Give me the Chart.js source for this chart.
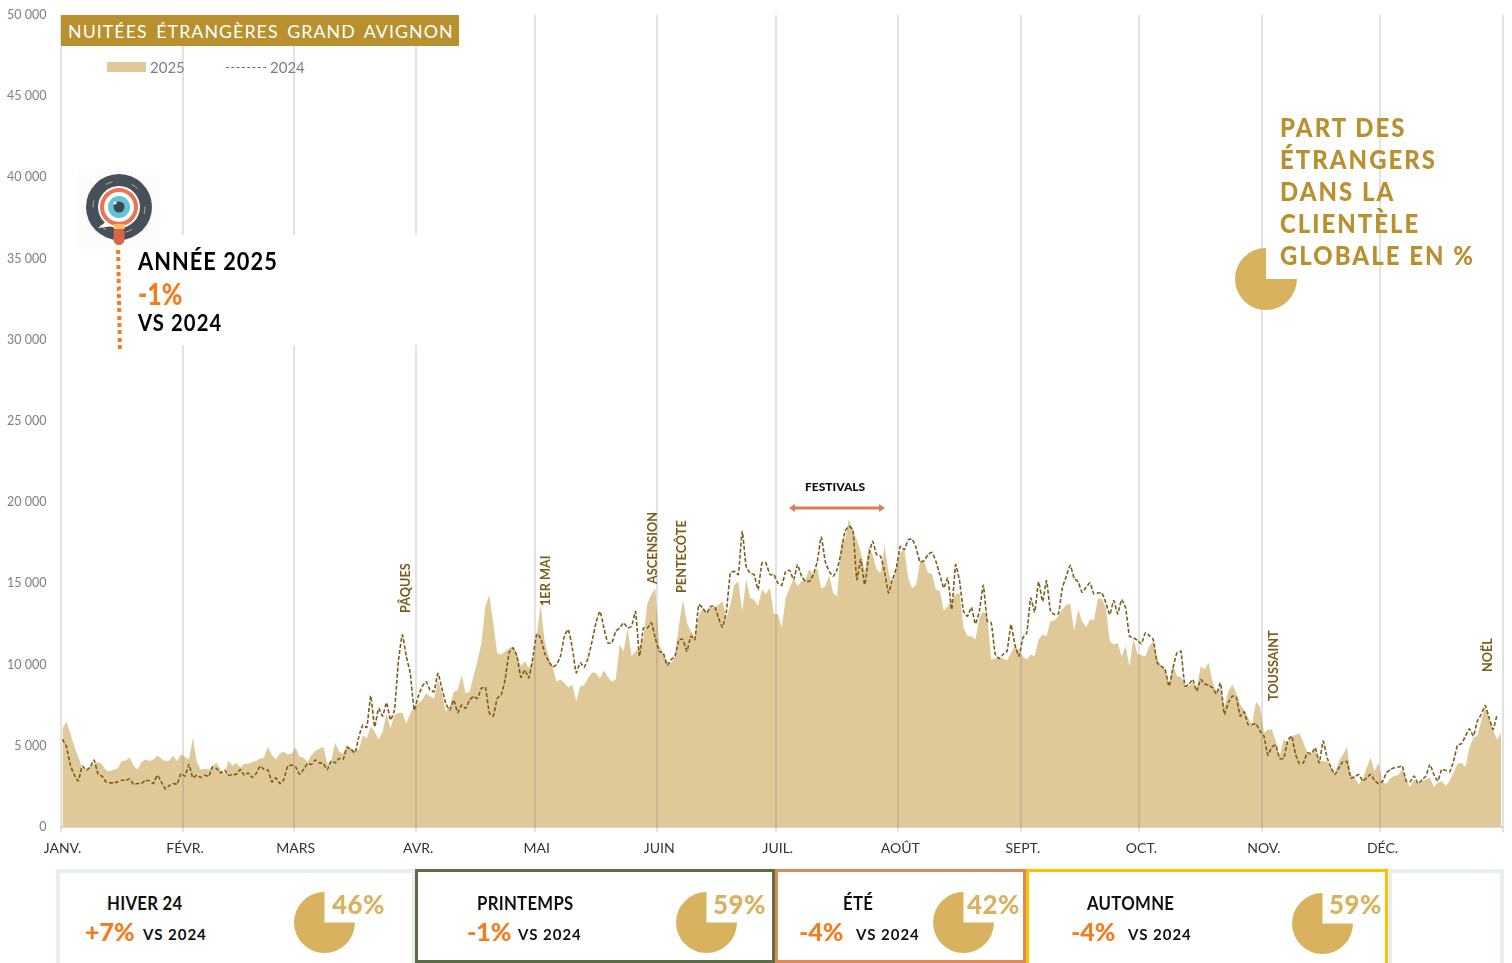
<!DOCTYPE html>
<html lang="fr">
<head>
<meta charset="utf-8">
<title>Nuitées étrangères Grand Avignon</title>
<script src="https://cdn.jsdelivr.net/npm/chart.js@4"></script>
<style>
html, body { margin: 0; padding: 0; background: #fff; }
#page { position: relative; width: 1512px; height: 963px; overflow: hidden; font-family: Lato, sans-serif; }
#graphe { position: absolute; left: 0; top: 0; }
.abs { position: absolute; white-space: nowrap; line-height: 1; }
.pie { position: absolute; }
.titre { left: 61px; top: 15px; width: 398px; height: 31px; background: #b8902d; color: #fff; font-size: 17.8px; line-height: 33px; text-indent: 7px; letter-spacing: 1.05px; word-spacing: 3px; }
.leg { color: #7f7f7f; font-size: 15px; top: 60px; }
.fete { color: #7a5c1e; font-weight: 700; font-size: 12.7px; transform: rotate(-90deg); transform-origin: left top; }
.carte { position: absolute; top: 869px; height: 94px; box-sizing: border-box; border-style: solid; background: #fff; }
.saison { font-weight: 700; font-size: 18px; color: #111; top: 894px; letter-spacing: .3px; transform: scaleX(.93); transform-origin: left; }
.evol { font-weight: 900; font-size: 25px; color: #f47b20; top: 919px; }
.vs { font-weight: 700; font-size: 15px; color: #111; top: 927px; letter-spacing: 1px; }
.part { font-weight: 900; font-size: 27px; color: #d9b25f; top: 890px; letter-spacing: .5px; transform: scaleX(.96); transform-origin: left; }
.etr { left: 1280px; color: #b8902d; font-weight: 900; font-size: 26px; letter-spacing: 2.2px; transform: scaleX(.92); transform-origin: left; }
</style>
</head>
<body>
<div id="page">
  <canvas id="graphe" width="1512" height="963"></canvas>

  <div class="abs titre">NUITÉES ÉTRANGÈRES GRAND AVIGNON</div>
  <div class="abs" style="left:107px;top:62px;width:39px;height:10px;background:#dfc998"></div>
  <div class="abs leg" style="left:150px">2025</div>
  <div class="abs" style="left:226px;top:67px;width:40px;border-top:1px dashed #8a6d2f"></div>
  <div class="abs leg" style="left:270px">2024</div>

  <!-- bloc année -->
  <div class="abs" style="left:121px;top:235px;width:300px;height:110px;background:#fff"></div>
  <div class="abs" style="left:78px;top:170px;width:82px;height:80px;background:#fcfcfc"></div>
  <svg class="abs" style="left:78px;top:170px" width="82" height="82" viewBox="0 0 82 82">
    <circle cx="41" cy="37" r="33" fill="#46505a"/>
    <g stroke="#c9a86a" stroke-width="1" stroke-dasharray="7 20" fill="none">
      <circle cx="41" cy="37" r="26"/>
    </g>
    <path d="M20 58 L30 50 L36 56 Z" fill="#fff"/>
    <circle cx="41" cy="37" r="21" fill="#fff"/>
    <circle cx="41" cy="37" r="17" fill="none" stroke="#ee7350" stroke-width="4"/>
    <circle cx="41" cy="37" r="11" fill="#63c4d4"/>
    <circle cx="41" cy="37" r="5.5" fill="#3d4650"/>
    <circle cx="37" cy="33" r="1.5" fill="#fff"/>
    <rect x="35.5" y="57" width="11" height="18" rx="5.5" fill="#d9644a"/>
    <rect x="35.5" y="54" width="11" height="5" fill="#f4c35e"/>
  </svg>
  <div class="abs" style="left:117px;top:250px;width:4px;height:100px;background:repeating-linear-gradient(#f47b20 0 4px, transparent 4px 7.3px);transform:rotate(-1deg)"></div>
  <div class="abs" style="left:138px;top:248px;font-weight:700;font-size:25px;color:#000;letter-spacing:1.2px;transform:scaleX(.87);transform-origin:left">ANNÉE 2025</div>
  <div class="abs" style="left:138px;top:278px;font-weight:900;font-size:30px;color:#f47b20;transform:scaleX(.83);transform-origin:left">-1%</div>
  <div class="abs" style="left:138px;top:312px;font-weight:700;font-size:22px;color:#000;letter-spacing:1.2px;transform:scaleX(.92);transform-origin:left">VS 2024</div>

  <!-- vacances et fêtes -->
  <div class="abs fete" style="left:399px;top:613px">PÂQUES</div>
  <div class="abs fete" style="left:539px;top:606px">1ER MAI</div>
  <div class="abs fete" style="left:646px;top:584px">ASCENSION</div>
  <div class="abs fete" style="left:675px;top:593px">PENTECÔTE</div>
  <div class="abs fete" style="left:1267px;top:701px">TOUSSAINT</div>
  <div class="abs fete" style="left:1481px;top:672px">NOËL</div>
  <div class="abs" style="left:805px;top:481px;font-weight:900;font-size:12px;color:#111">FESTIVALS</div>
  <svg class="abs" style="left:786px;top:501px" width="102" height="14" viewBox="0 0 102 14">
    <path d="M3 7 L9 3 L9 5.5 L93 5.5 L93 3 L99 7 L93 11 L93 8.5 L9 8.5 L9 11 Z" fill="#d97f55"/>
  </svg>

  <!-- part des étrangers -->
  <div class="abs etr" style="top:114px">PART DES</div>
  <div class="abs etr" style="top:146px">ÉTRANGERS</div>
  <div class="abs etr" style="top:178px">DANS LA</div>
  <div class="abs etr" style="top:210px">CLIENTÈLE</div>
  <div class="abs etr" style="top:242px">GLOBALE EN %</div>
  <canvas class="pie" width="62" height="62" style="left:1235px;top:248px"></canvas>

  <!-- saisons -->
  <div class="carte" style="left:56px;width:360px;border-width:4px 4px 0;border-color:#e6efec"></div>
  <div class="carte" style="left:415px;width:360px;border-width:3px;border-color:#5e6b47"></div>
  <div class="carte" style="left:775px;width:251px;border-width:3px;border-color:#d98b5a"></div>
  <div class="carte" style="left:1026px;width:362px;border-width:3px 3px 0;border-color:#ffc000"></div>
  <div class="carte" style="left:1388px;width:116px;border-width:4px 4px 0;border-color:#e6efec"></div>

  <div class="abs saison" style="left:107px">HIVER 24</div>
  <div class="abs evol" style="left:85px">+7%</div>
  <div class="abs vs" style="left:143px">VS 2024</div>
  <canvas class="pie" width="61" height="61" style="left:294px;top:892px"></canvas>
  <div class="abs part" style="left:332px">46%</div>

  <div class="abs saison" style="left:477px">PRINTEMPS</div>
  <div class="abs evol" style="left:467px">-1%</div>
  <div class="abs vs" style="left:518px">VS 2024</div>
  <canvas class="pie" width="61" height="61" style="left:676px;top:892px"></canvas>
  <div class="abs part" style="left:713px">59%</div>

  <div class="abs saison" style="left:843px">ÉTÉ</div>
  <div class="abs evol" style="left:799px">-4%</div>
  <div class="abs vs" style="left:856px">VS 2024</div>
  <canvas class="pie" width="61" height="61" style="left:933px;top:892px"></canvas>
  <div class="abs part" style="left:967px">42%</div>

  <div class="abs saison" style="left:1087px">AUTOMNE</div>
  <div class="abs evol" style="left:1071px">-4%</div>
  <div class="abs vs" style="left:1128px">VS 2024</div>
  <canvas class="pie" width="61" height="61" style="left:1292px;top:893px"></canvas>
  <div class="abs part" style="left:1329px">59%</div>
</div>

<script>
// axes
const moisLabels = ['JANV.', 'FÉVR.', 'MARS', 'AVR.', 'MAI', 'JUIN', 'JUIL.', 'AOÛT', 'SEPT.', 'OCT.', 'NOV.', 'DÉC.', ''];
const moisDebut = [0, 31, 59, 90, 120, 151, 181, 212, 243, 273, 304, 334, 365];

// nuitées par jour, mois par mois
const nuitees2025 = [
  6070,6480,5760,4940,4320,3600,3500,3700,3900,4000,3870,3500,3440,3540,3600,4050,4100,4260,3750,3540,4000,4150,4070,4150,4400,4220,4050,4100,4380,4070,4480,
  4320,4150,5500,4000,3540,3580,3540,3750,3950,3540,3300,4070,3770,3950,3660,3900,3900,4000,4070,4220,4280,4940,4420,4150,4530,4630,4470,4530,
  4900,4320,4260,4000,4420,4700,4820,4940,3900,4070,5190,4630,4530,5080,4840,4730,4770,5660,5450,6210,5870,5390,5870,7000,6070,6890,7040,7040,6380,7000,7410,
  7610,7820,8230,8030,7920,9050,8230,7100,7410,8330,8440,9360,8230,8330,9260,10190,11320,13580,14300,12550,10700,10600,10800,11010,11110,10620,9900,10210,9800,10210,
  11850,13690,11440,10520,9900,8940,9080,8880,8570,8770,7750,8670,8730,9180,9530,9490,9140,9640,9230,8940,9080,11230,10820,12260,10520,10820,11030,11640,13800,14310,14680,
  11230,10620,10210,10100,10520,12460,14000,12570,12050,11750,13000,13490,13180,13590,13490,13690,13900,12870,13690,14920,15130,13280,15230,14100,14000,13630,14620,14350,14720,13120,
  13120,12260,14100,14720,15290,14820,15130,15230,15890,15540,15950,14680,14820,15500,14410,14200,17490,17690,18960,18200,17690,16970,15740,17280,16770,15850,15640,17340,15740,14920,15950,
  16870,17080,15330,14680,14920,16360,16360,15640,15580,14620,14510,13320,13590,14000,14310,14410,12260,11750,11750,11540,12870,13280,12980,10310,10370,10450,10370,10250,10720,11190,10820,
  10520,10310,10620,10520,11540,11850,11750,12670,12710,12980,13390,13690,13740,12050,13390,12670,12300,12770,12730,14060,14060,13490,11440,11230,11340,10520,11130,9900,11600,10660,
  10580,10520,11130,11440,10410,9900,9700,8770,10000,9290,9230,8770,8670,8880,8570,9900,9700,10110,8980,8260,8570,7440,8360,8770,8260,7540,7240,6720,6310,7690,7440,
  5800,6010,6010,5290,4370,5390,5190,5600,5660,5780,5190,4570,4470,4780,4060,4060,4020,3650,3340,4060,4470,4920,3240,3030,2620,2930,3650,4260,3440,3960,
  2730,2670,2990,3140,3200,3550,2930,2460,2930,2620,2830,2930,3030,2460,2730,2830,2520,2830,3340,3900,3960,3690,4880,5490,5600,6520,7440,6720,6010,5350,5800
];
const nuitees2024 = [
  5390,4940,3810,3190,2840,3750,3500,3700,4120,3250,3130,2780,2720,2720,2780,2880,2880,2960,2630,2680,2680,2880,2840,2680,3190,2780,2350,2550,2680,2630,3290,
  3130,3850,3030,3190,3050,3190,3130,3700,3600,3330,3500,3190,3230,3250,3540,3190,3330,3050,3290,3750,3540,3500,2780,3030,2680,2920,3750,3810,
  3700,3250,3540,3910,3850,4120,3950,3910,3540,4070,3950,4220,4160,4900,4770,4570,5560,6280,6130,8070,6170,7310,6830,7660,6590,7200,10190,11830,10500,9470,7200,
  8030,8640,8950,8440,8330,9470,8540,7610,7200,7820,7040,7510,7310,7820,8030,7920,8540,8600,7040,6830,7920,8130,9080,10720,11030,10520,9220,9660,9180,10410,
  11890,11640,10720,10210,9860,10000,10520,11750,12160,11030,9490,10110,9840,10410,11440,12570,13280,12260,11340,11340,12050,12260,12570,12260,12360,13280,10520,12260,12260,12570,11640,
  10820,10720,9960,10310,10520,11540,11540,10820,11750,11540,13690,13490,13180,13590,13590,12870,12300,13280,15640,15740,15540,18200,16050,15640,15540,14620,16260,16260,15540,15540,
  15030,14880,15740,15810,15230,16150,15440,15130,15130,15540,16360,17860,16360,15740,15440,15850,16870,18200,18510,18310,15230,16460,14920,16670,17590,16770,16670,15740,14410,15230,15950,
  17280,17080,17690,17730,17180,16320,16400,16770,16910,16360,15540,14720,15330,13390,16150,15130,13280,12980,13530,12500,13280,14880,12670,12570,10660,10370,10620,10820,12460,11230,10520,
  11640,11950,14100,13240,15090,13900,15170,13280,13080,13120,14720,15440,16110,15330,15090,14450,14760,15030,14350,14410,14410,13800,13080,13940,13120,14000,13490,11750,11640,11500,
  11280,11950,11790,11540,10110,9900,9700,8670,9800,10720,10820,8670,8770,9080,8360,9080,8820,8730,8570,8200,8880,6930,7650,8060,8000,6830,7090,6310,6310,6360,5900,
  5600,4430,4920,5040,4220,4220,5290,5600,4470,3900,3960,4570,4510,4880,3960,5290,4260,3650,3240,3650,4020,4020,3030,3080,3240,2830,3030,3240,2870,2670,
  2790,3340,3550,3650,3690,3750,2830,2790,3140,2670,2910,3140,3850,3240,2830,3550,3490,3400,4060,5040,5130,5600,6050,5600,6520,6930,7480,6720,6010,6930
];

// les camemberts de l'infographie montrent tous le même quart vide
const partCamembert = [75, 25];

// chaque jour est centré dans sa case
const points = serie => serie.map((v, i) => ({ x: i + 0.5, y: v }));

new Chart(document.getElementById('graphe'), {
  type: 'line',
  data: {
    datasets: [
      {
        label: '2025',
        data: points(nuitees2025),
        fill: 'origin',
        backgroundColor: '#dfc998',
        borderColor: 'rgba(0,0,0,0)',
        borderWidth: 0,
        pointRadius: 0,
        order: 2
      },
      {
        label: '2024',
        data: points(nuitees2024),
        fill: false,
        borderColor: '#7a5c1e',
        borderWidth: 1.6,
        borderDash: [4, 2],
        tension: 0.15,
        pointRadius: 0,
        order: 1
      }
    ]
  },
  options: {
    responsive: false,
    animation: false,
    layout: { padding: { top: 15, right: 9, bottom: 0, left: 0 } },
    plugins: { legend: { display: false }, tooltip: { enabled: false } },
    scales: {
      x: {
        type: 'linear',
        min: 0,
        max: 365,
        afterBuildTicks: axis => { axis.ticks = moisDebut.map(v => ({ value: v })); },
        afterFit: axis => { axis.height = 136; },
        grid: { color: 'rgba(110,110,110,0.2)', lineWidth: 2, tickLength: 5, z: 1 },
        border: { display: false },
        ticks: {
          autoSkip: false,
          maxRotation: 0,
          labelOffset: 2,
          padding: 8,
          color: '#333',
          font: { family: 'Lato', size: 14 },
          callback: v => moisLabels[moisDebut.indexOf(v)]
        }
      },
      y: {
        min: 0,
        max: 50000,
        afterFit: axis => { axis.width = 60.5; axis.paddingTop = 0; axis.paddingBottom = 0; },
        grid: {
          color: c => (c.tick.value === 0 ? '#d9d9d9' : 'rgba(0,0,0,0)'),
          lineWidth: 2,
          drawTicks: false
        },
        border: { display: false },
        ticks: {
          stepSize: 5000,
          padding: 14,
          color: '#7f7f7f',
          font: { family: 'Lato', size: 12.5 },
          callback: v => String(v).replace(/\B(?=(\d{3})+$)/g, ' ')
        }
      }
    }
  }
});

document.querySelectorAll('canvas.pie').forEach(c => {
  new Chart(c, {
    type: 'pie',
    data: {
      labels: ['Étrangers', ''],
      datasets: [{ data: partCamembert, backgroundColor: ['#d9b25f', 'rgba(0,0,0,0)'], borderWidth: 0 }]
    },
    options: {
      responsive: false,
      animation: false,
      rotation: 90,
      plugins: { legend: { display: false }, tooltip: { enabled: false } }
    }
  });
});
</script>
</body>
</html>
